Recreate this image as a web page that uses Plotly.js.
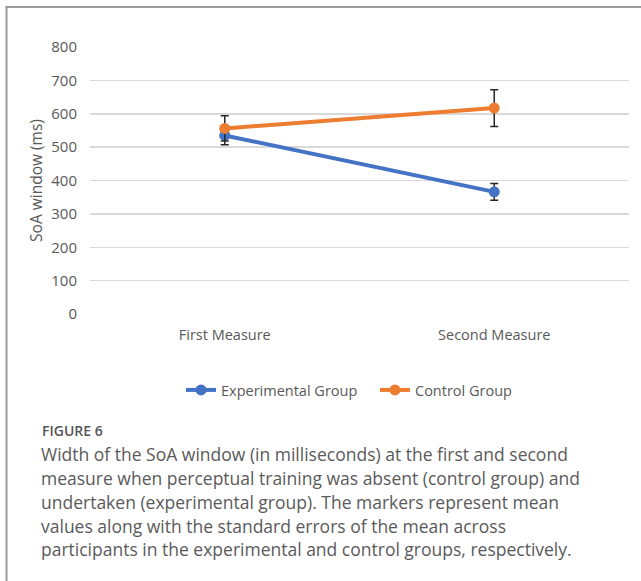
<!DOCTYPE html>
<html>
<head>
<meta charset="utf-8">
<script src="https://cdn.plot.ly/plotly-3.0.1.min.js"></script>
<style>
html,body{margin:0;padding:0;background:#fff;}
#chart{width:641px;height:581px;}
</style>
</head>
<body>
<div id="chart"></div>
<script>
const categories = ["First Measure", "Second Measure"];
const experimentalMean = [535, 366];
const experimentalSE = [28, 25];
const controlMean = [556, 617];
const controlSE = [38, 55];
const seriesNames = ["Experimental Group", "Control Group"];
const yTicks = [0, 100, 200, 300, 400, 500, 600, 700, 800];
const captionHead = "FIGURE 6";
const captionLines = [
  "Width of the SoA window (in milliseconds) at the first and second",
  "measure when perceptual training was absent (control group) and",
  "undertaken (experimental group). The markers represent mean",
  "values along with the standard errors of the mean across",
  "participants in the experimental and control groups, respectively."
];

const W = 641, H = 581;
const L = 90, R = 12, T = 47, B = 267;
const pw = W - L - R, ph = H - T - B;
const px = x => (x - L) / pw;
const py = y => (H - B - y) / ph;

function errStyle(arr){
  return {type:'data', array:arr, visible:true, color:'#262626', thickness:1.5, width:4};
}

const traces = [
  {x:categories, y:experimentalMean, name:seriesNames[0], type:'scatter', mode:'lines+markers',
   line:{color:'#4472C4', width:4}, marker:{color:'#4472C4', size:11},
   error_y:errStyle(experimentalSE), legend:'legend'},
  {x:categories, y:controlMean, name:seriesNames[1], type:'scatter', mode:'lines+markers',
   line:{color:'#ED7D31', width:4}, marker:{color:'#ED7D31', size:11},
   error_y:errStyle(controlSE), legend:'legend2'}
];

const annotations = [
  {text:captionHead, xref:'paper', yref:'paper', x:px(40), y:py(430), xanchor:'left', yanchor:'middle',
   showarrow:false, font:{family:'Open Sans, sans-serif', size:14, color:'#555555', weight:600}}
];
const lineYs = [454, 478, 502, 526, 549];
captionLines.forEach((t,i)=>{
  annotations.push({text:t, xref:'paper', yref:'paper', x:px(39), y:py(lineYs[i]), xanchor:'left', yanchor:'middle',
    showarrow:false, font:{family:'Open Sans, sans-serif', size:17.5, color:'#5a5a5a'}});
});

const legendBase = {orientation:'h', yanchor:'middle', xanchor:'left',
  font:{size:14.5, color:'#595959'}, itemwidth:30, bgcolor:'rgba(0,0,0,0)', borderwidth:0};

const layout = {
  width:W, height:H,
  margin:{l:L, r:R, t:T, b:B},
  paper_bgcolor:'#ffffff', plot_bgcolor:'#ffffff',
  font:{family:'Open Sans, sans-serif', color:'#595959', size:14.5},
  showlegend:true,
  legend:Object.assign({}, legendBase, {x:px(181), y:py(390)}),
  legend2:Object.assign({}, legendBase, {x:px(375), y:py(390)}),
  xaxis:{type:'category', range:[-0.5,1.5], showgrid:false, zeroline:false, showline:false,
         ticks:'', ticklabelstandoff:10, tickfont:{size:14.5, color:'#595959'}, fixedrange:true},
  yaxis:{range:[0,800], tickvals:yTicks, showgrid:true, gridcolor:'#d9d9d9', gridwidth:1.5,
         zeroline:false, showline:false, ticks:'', ticklabelstandoff:12,
         tickfont:{size:15, color:'#595959'},
         title:{text:'SoA window (ms)', font:{size:15.5, color:'#595959'}, standoff:4}, fixedrange:true},
  annotations:annotations,
  shapes:[
    {type:'line', xref:'paper', yref:'paper', x0:px(6.5), x1:px(6.5), y0:py(7), y1:py(581), line:{color:'#9a9a9a', width:2}},
    {type:'line', xref:'paper', yref:'paper', x0:px(5.5), x1:px(641), y0:py(7), y1:py(7), line:{color:'#9a9a9a', width:2}}
  ]
};

Plotly.newPlot('chart', traces, layout, {displayModeBar:false, staticPlot:true});
</script>
</body>
</html>
